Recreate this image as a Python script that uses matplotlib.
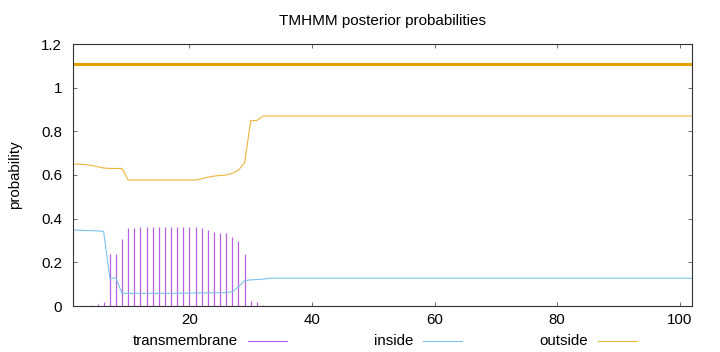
import matplotlib
matplotlib.use("Agg")
import matplotlib.pyplot as plt
from matplotlib.lines import Line2D

plt.rcParams['font.family'] = ['Liberation Sans', 'DejaVu Sans']
plt.rcParams['font.size'] = 10.8

# residue positions and posterior probabilities
pos = list(range(1, 103))

tm_pos = [4, 5, 6, 7, 8, 9, 10, 11, 12, 13, 14, 15, 16, 17, 18, 19, 20, 21,
          22, 23, 24, 25, 26, 27, 28, 29, 30, 31, 32]
tm_val = [0.005, 0.01, 0.02, 0.238, 0.238, 0.308, 0.357, 0.357, 0.36, 0.36,
          0.36, 0.36, 0.36, 0.36, 0.36, 0.36, 0.36, 0.36, 0.357, 0.348,
          0.34, 0.336, 0.333, 0.318, 0.30, 0.237, 0.023, 0.02, 0.003]

inside_head = [0.348, 0.347, 0.346, 0.345, 0.344, 0.342, 0.128, 0.128,
               0.058, 0.058, 0.058, 0.058, 0.058, 0.058, 0.058, 0.058,
               0.058, 0.058, 0.059, 0.059, 0.060, 0.060, 0.060, 0.061,
               0.061, 0.061, 0.066, 0.088, 0.116, 0.120, 0.121, 0.123]
inside = inside_head + [0.127] * (len(pos) - len(inside_head))

outside_head = [0.650, 0.650, 0.648, 0.644, 0.638, 0.632, 0.630, 0.630,
                0.630, 0.577, 0.577, 0.577, 0.577, 0.577, 0.577, 0.577,
                0.577, 0.577, 0.577, 0.577, 0.577, 0.583, 0.590, 0.595,
                0.598, 0.600, 0.608, 0.622, 0.656, 0.849, 0.850, 0.870]
outside = outside_head + [0.870] * (len(pos) - len(outside_head))

# predicted topology bar (whole sequence outside)
topo_x = [1, 102]
topo_y = [1.11, 1.11]

xticks = [20, 40, 60, 80, 100]
yticks = [0, 0.2, 0.4, 0.6, 0.8, 1, 1.2]
ylabels = ['0', '0.2', '0.4', '0.6', '0.8', '1', '1.2']

c_tm = '#b860e6'
c_in = '#7cc4ee'
c_out = '#eeb43c'
c_topo = '#e69f00'

fig = plt.figure(figsize=(7.2, 3.52), dpi=100)
ax = fig.add_axes([73/720, 1 - 306/352, (692-73)/720, (306-44)/352])

ax.vlines(tm_pos, 0, tm_val, color=c_tm, lw=0.9)
ax.plot(pos, inside, color=c_in, lw=0.8)
ax.plot(pos, outside, color=c_out, lw=0.8)
ax.plot(topo_x, topo_y, color=c_topo, lw=2.2)

ax.set_xlim(1, 102)
ax.set_ylim(0, 1.2)
ax.set_xticks(xticks)
ax.set_yticks(yticks)
ax.set_yticklabels(ylabels)
ax.tick_params(direction='in', length=3, width=0.6, color='#555555',
               top=True, right=True)
ax.tick_params(axis='x', pad=5)
ax.tick_params(axis='y', pad=8)
for s in ax.spines.values():
    s.set_color('#333333')
    s.set_linewidth(0.8)

ax.set_title('TMHMM posterior probabilities', fontsize=11, pad=14)
fig.text(15/720, 1 - 175/352, 'probability', rotation=90, ha='center',
         va='center')

# key below the plot, text before sample like gnuplot
names = ['transmembrane', 'inside', 'outside']
cols = [c_tm, c_in, c_out]
for i, (n, c) in enumerate(zip(names, cols)):
    x_end = 238 + 175 * i
    fig.text(x_end / 720, 1 - 341/352, n, ha='right', va='center')
    fig.add_artist(Line2D([(x_end + 10) / 720, (x_end + 49) / 720],
                          [1 - 341/352, 1 - 341/352], color=c, lw=0.8))

fig.savefig('out.png', dpi=100)
